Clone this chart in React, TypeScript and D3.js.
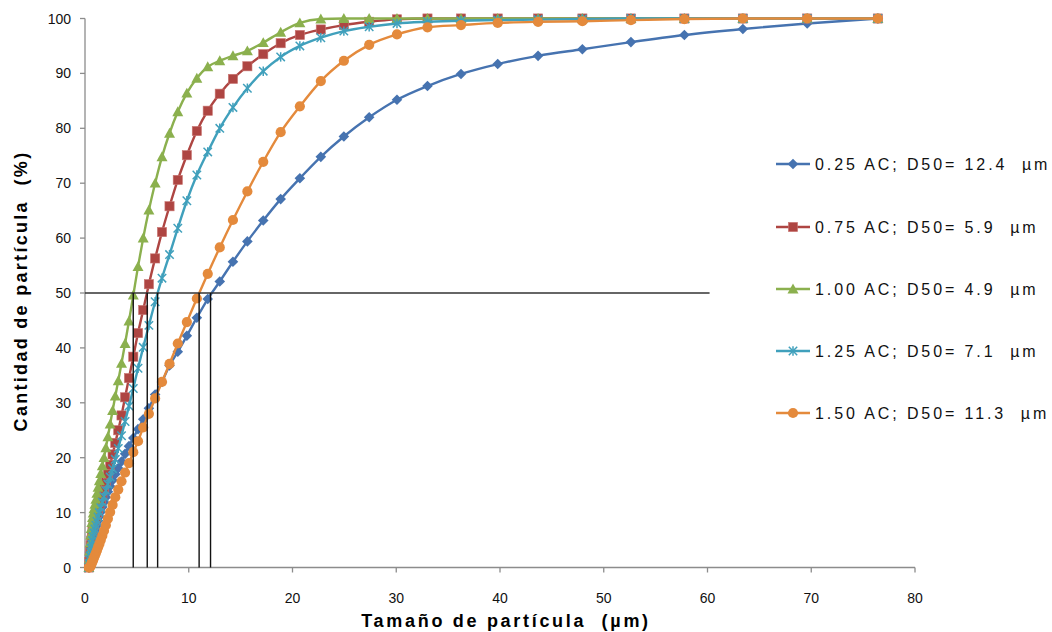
import React from "react";
import * as d3 from "d3";

const sizes = [0.375,0.412,0.452,0.496,0.545,0.598,0.657,0.721,0.791,0.869,0.954,1.047,1.149,1.261,1.385,1.520,1.669,1.832,2.011,2.208,2.423,2.660,2.920,3.205,3.519,3.863,4.240,4.655,5.110,5.610,6.158,6.760,7.421,8.147,8.943,9.817,10.78,11.83,12.99,14.26,15.65,17.18,18.86,20.71,22.73,24.95,27.39,30.07,33.01,36.24,39.78,43.67,47.94,52.62,57.77,63.41,69.61,76.42];

const ac025 = [0,0.5,1.0,1.6,2.2,2.8,3.5,4.2,4.9,5.6, 6.3,7.0,7.7,8.5,9.3,10.1,11.0,11.9,12.8,13.8, 14.8,15.9,17.0,18.1,19.3,20.7,22.1,23.6,25.2,27.0, 29.0,31.5,33.8,36.8,39.3,42.2,45.5,48.9,52.1,55.7, 59.4,63.2,67.1,70.9,74.8,78.5,82.0,85.2,87.7,89.9, 91.7,93.2,94.4,95.7,97.0,98.1,99.1,100];
const ac075 = [0,1.0,2.0,3.0,4.0,4.9,5.8,6.6,7.3,8.0, 8.6,9.2,9.9,10.6,11.4,12.3,13.3,14.4,15.6,17.0, 18.7,20.6,22.7,25.0,27.7,31.0,34.5,38.4,42.7,46.9, 51.6,56.3,61.1,65.8,70.6,75.1,79.5,83.2,86.3,89.0, 91.3,93.5,95.5,97.0,98.0,98.8,99.4,99.85,100,100, 100,100,100,100,100,100,100,100];
const ac100 = [0,1.5,3.0,4.5,5.9,7.1,8.2,9.1,9.9,10.7, 11.5,12.4,13.5,14.6,15.8,17.1,18.5,20.0,21.8,23.8, 26.1,28.6,31.2,34.0,37.2,40.8,44.9,49.6,54.8,60.0, 65.1,70.0,74.8,79.1,83.0,86.4,89.1,91.2,92.3,93.2, 94.1,95.6,97.5,99.2,99.9,100,100,100,100,100, 100,100,100,100,100,100,100,100];
const ac125 = [0,0.7,1.4,2.1,2.8,3.5,4.2,4.9,5.6,6.3, 7.0,7.7,8.4,9.2,10.0,10.9,11.9,12.9,14.0,15.2, 16.5,18.0,19.7,21.7,24.0,26.6,29.4,32.6,36.3,40.1, 44.1,48.4,52.7,57.0,61.8,66.8,71.5,75.7,80.0,83.8, 87.3,90.4,93.0,95.0,96.5,97.7,98.5,99.1,99.4,99.6, 99.7,99.8,99.9,100,100,100,100,100];
const ac150 = [0,0,0.05,0.15,0.3,0.5,0.8,1.1,1.4,1.8, 2.2,2.6,3.1,3.7,4.3,5.0,5.8,6.7,7.7,8.9, 10.1,11.4,12.8,14.2,15.7,17.3,19.0,21.0,23.0,25.5, 28.0,30.8,33.8,37.1,40.8,44.7,49.0,53.5,58.3,63.3, 68.5,73.9,79.3,84.0,88.6,92.3,95.2,97.1,98.4,98.8, 99.2,99.4,99.5,99.7,99.9,100,100,100];

const seriesNames = ["0.25 AC; D50= 12.4  µm","0.75 AC; D50= 5.9  µm","1.00 AC; D50= 4.9  µm","1.25 AC; D50= 7.1  µm","1.50 AC; D50= 11.3  µm"];
const seriesValues = [ac025, ac075, ac100, ac125, ac150];
const seriesColors = ["#4673B0", "#AE4542", "#8BB04E", "#40A0BC", "#E48A3C"];
const seriesMarkers = ["diamond", "square", "triangle", "star", "circle"];

const d50Lines = [4.65, 6.0, 7.0, 11.0, 12.1];
const refLevel = 50;
const refEnd = 60.2;

const xTicks = [0,10,20,30,40,50,60,70,80];
const yTicks = [0,10,20,30,40,50,60,70,80,90,100];

const W = 1052, H = 632;
const FONT = "'Liberation Sans', Arial, sans-serif";

function Marker({ type, x, y, color }: { type: string; x: number; y: number; color: string }) {
  if (type === "diamond") {
    const s = 5.3;
    return <path d={`M${x},${y - s}L${x + s},${y}L${x},${y + s}L${x - s},${y}Z`} fill={color} />;
  }
  if (type === "square") {
    const s = 4.6;
    return <rect x={x - s} y={y - s} width={2 * s} height={2 * s} fill={color} stroke="#C97672" strokeWidth={0.6} />;
  }
  if (type === "triangle") {
    const s = 5.5;
    return <path d={`M${x},${y - s}L${x + s},${y + s * 0.8}L${x - s},${y + s * 0.8}Z`} fill={color} />;
  }
  if (type === "star") {
    const s = 4.2;
    return (
      <g stroke={color} strokeWidth={1.5}>
        <line x1={x - s} y1={y - s} x2={x + s} y2={y + s} />
        <line x1={x - s} y1={y + s} x2={x + s} y2={y - s} />
        <line x1={x} y1={y - s - 0.5} x2={x} y2={y + s + 0.5} />
      </g>
    );
  }
  return <circle cx={x} cy={y} r={5.1} fill={color} />;
}

export default function App() {
  const x = d3.scaleLinear().domain([0, 80]).range([85, 915]);
  const y = d3.scaleLinear().domain([0, 100]).range([567.5, 18.5]);
  const line = d3
    .line<number>()
    .x((_, i) => x(sizes[i]))
    .y((v) => y(v))
    .curve(d3.curveMonotoneX);

  const legendY = [164, 227, 289, 351, 413];

  return (
    <svg width={W} height={H} style={{ position: "absolute", left: 0, top: 0, background: "#fff" }} fontFamily={FONT}>
      <line x1={x(0)} y1={y(0)} x2={x(0)} y2={y(100)} stroke="#8C8C8C" strokeWidth={1.3} />
      <line x1={x(0)} y1={y(0)} x2={x(80)} y2={y(0)} stroke="#8C8C8C" strokeWidth={1.3} />
      {yTicks.map((t) => (
        <g key={"y" + t}>
          <line x1={x(0) - 5} x2={x(0)} y1={y(t)} y2={y(t)} stroke="#8C8C8C" strokeWidth={1.3} />
          <text x={71} y={y(t) + 5} textAnchor="end" fontSize={14} fill="#111">{t}</text>
        </g>
      ))}
      {xTicks.map((t) => (
        <g key={"x" + t}>
          <line x1={x(t)} x2={x(t)} y1={y(0)} y2={y(0) + 5} stroke="#8C8C8C" strokeWidth={1.3} />
          <text x={x(t)} y={603} textAnchor="middle" fontSize={14} fill="#111">{t}</text>
        </g>
      ))}

      {seriesValues.map((vals, si) => (
        <g key={"s" + si}>
          <path d={line(vals) || ""} fill="none" stroke={seriesColors[si]} strokeWidth={2.4} />
          {vals.map((v, i) => (
            <Marker key={i} type={seriesMarkers[si]} x={x(sizes[i])} y={y(v)} color={seriesColors[si]} />
          ))}
        </g>
      ))}

      <line x1={x(0)} x2={x(refEnd)} y1={y(refLevel)} y2={y(refLevel)} stroke="#333" strokeWidth={1.4} />
      {d50Lines.map((d, i) => (
        <line key={"d" + i} x1={x(d)} x2={x(d)} y1={y(0)} y2={y(refLevel)} stroke="#111" strokeWidth={1.4} />
      ))}

      {seriesNames.map((name, i) => (
        <g key={"l" + i}>
          <line x1={776} x2={810} y1={legendY[i]} y2={legendY[i]} stroke={seriesColors[i]} strokeWidth={2.4} />
          <Marker type={seriesMarkers[i]} x={793} y={legendY[i]} color={seriesColors[i]} />
          <text x={815} y={legendY[i] + 5.5} fontSize={16} letterSpacing={2.9} fill="#111" style={{ whiteSpace: "pre" }}>{name}</text>
        </g>
      ))}

      <text x={506} y={627} textAnchor="middle" fontSize={18} fontWeight="bold" letterSpacing={2.7} fill="#000" style={{ whiteSpace: "pre" }}>
        Tamaño de partícula  (µm)
      </text>
      <text transform={`translate(27,291) rotate(-90)`} textAnchor="middle" fontSize={18} fontWeight="bold" letterSpacing={2.3} fill="#000" style={{ whiteSpace: "pre" }}>
        Cantidad de partícula  (%)
      </text>
    </svg>
  );
}
